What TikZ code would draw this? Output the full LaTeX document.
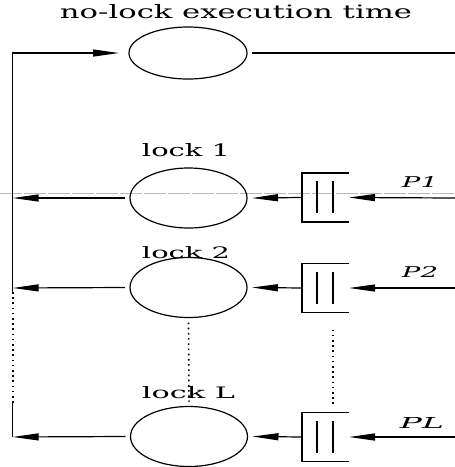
\documentclass[tikz,border=0pt]{standalone}
\usepackage{fontspec}
\setmainfont{DejaVu Serif}
\usetikzlibrary{shapes.geometric,arrows.meta}
\tikzset{
  conn/.style={line width=1.2pt},
  arr/.style={conn,-{Triangle[length=26pt,width=7pt]}},
  dots/.style={line width=1.6pt,dash pattern=on 1.6pt off 3.6pt},
  place/.style={ellipse,draw,line width=1.2pt,minimum width=117pt,minimum height=60pt,inner sep=0pt,outer sep=5pt},
  qbox/.style={rectangle,minimum width=47pt,minimum height=49pt,inner sep=0pt,outer sep=0pt},
  lbl/.style={inner sep=0pt,anchor=base},
}
\newcommand\DrawQueue[1]{%
  \draw[conn] (#1.north east) -- (#1.north west) -- (#1.south west) -- (#1.south east);
  \draw[conn] ([xshift=-8.5pt,yshift=-8pt]#1.north) -- ([xshift=-8.5pt,yshift=9pt]#1.south);
  \draw[conn] ([xshift=7.5pt,yshift=-8pt]#1.north) -- ([xshift=7.5pt,yshift=9pt]#1.south);
}
\begin{document}
\begin{tikzpicture}[x=1pt,y=-1pt]
\useasboundingbox (0,0) rectangle (455,467);
% scan artifact line
\draw[gray!55,line width=0.6pt,dash pattern=on 22pt off 2pt] (0,193) -- (455,193);
% title and labels
\node[lbl] (title) at (236,18) {\resizebox{352pt}{14pt}{no-lock execution time}};
\node[lbl] (l1) at (186,156) {\resizebox{88pt}{13pt}{lock 1}};
\node[lbl] (l2) at (186,258) {\resizebox{88pt}{12pt}{lock 2}};
\node[lbl] (lL) at (188.5,398) {\resizebox{93pt}{12pt}{lock L}};
\node[lbl] (p1) at (420,187) {\resizebox{36pt}{11pt}{\itshape P1}};
\node[lbl] (p2) at (420,277) {\resizebox{36pt}{11pt}{\itshape P2}};
\node[lbl] (pL) at (422,428) {\resizebox{44pt}{11pt}{\itshape PL}};
% ellipses
\node[place,minimum width=118pt,minimum height=52pt] (e0) at (188,53) {};
\node[place] (e1) at (188.5,198) {};
\node[place] (e2) at (188.5,287.5) {};
\node[place] (eL) at (189,436.5) {};
% queue boxes
\node[qbox] (b1) at (325.5,197.5) {};
\node[qbox] (b2) at (325.5,288) {};
\node[qbox] (bL) at (325.5,437) {};
\DrawQueue{b1}
\DrawQueue{b2}
\DrawQueue{bL}
% coordinates
\coordinate (c0) at (12.7,53);
\coordinate (c1) at (12.7,198);
\coordinate (c2) at (12.7,288);
\coordinate (cv2) at (12.7,292);
\coordinate (cvL) at (12.7,403);
\coordinate (cL) at (12.7,437);
\coordinate (r0) at (455,53);
\coordinate (r1) at (455,198);
\coordinate (r2) at (455,288);
\coordinate (rL) at (455,437);
% top loop
\draw[arr,shorten >=5pt] (cv2) -- (c0) -- (e0.west);
\draw[conn] (e0.east) -- (r0);
\draw[dots] (cv2) -- (cvL);
\draw[conn] (cvL) -- (cL);
% rows
\draw[arr] (e1.west) -- (c1);
\draw[arr] (e2.west) -- (c2);
\draw[arr] (eL.west) -- (cL);
\draw[arr] (b1.west) -- (e1.east);
\draw[arr] (b2.west) -- (e2.east);
\draw[arr] (bL.west) -- (eL.east);
\draw[arr] (r1) -- (b1.east);
\draw[arr] (r2) -- (b2.east);
\draw[arr] (rL) -- (bL.east);
% dotted continuations
\draw[dots] (e2.south) -- (eL.north);
\draw[dots,shorten <=17pt,shorten >=9pt] ([xshift=7.5pt]b2.south) -- ([xshift=7.5pt]bL.north);
\end{tikzpicture}
\end{document}
